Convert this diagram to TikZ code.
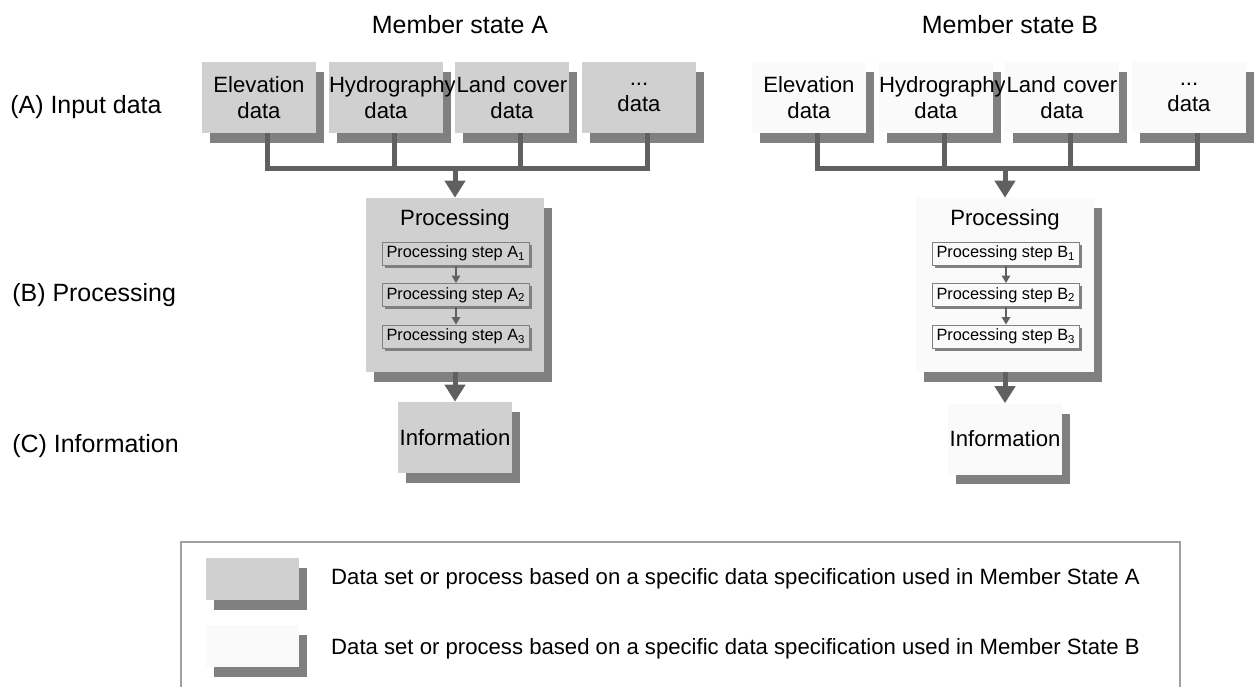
\documentclass[tikz,border=0pt]{standalone}
\usepackage{fontspec}
\setmainfont{Liberation Sans}
\usetikzlibrary{arrows.meta, shadows}
\definecolor{fillA}{HTML}{D0D0D0}
\definecolor{fillB}{HTML}{FAFAFA}
\definecolor{shade}{HTML}{808080}
\definecolor{wire}{HTML}{606060}
\definecolor{frame}{HTML}{A0A0A0}

\begin{document}
\begin{tikzpicture}[x=0.02cm, y=-0.02cm,
  every node/.style={font=\fontsize{12.6}{14.6}\selectfont},
  shadowed/.style={drop shadow={shadow xshift=0.16cm, shadow yshift=-0.2cm, fill=shade, opacity=1}},
  datbox/.style={shadowed, minimum width=2.28cm, minimum height=1.42cm, text width=2.28cm, inner sep=0pt, align=center},
  procbox/.style={shadowed, minimum width=3.56cm, minimum height=3.48cm, inner sep=0pt},
  stepbox/.style={draw=shade, line width=0.02cm, drop shadow={shadow xshift=0.05cm, shadow yshift=-0.05cm, fill=shade, opacity=1}, minimum width=2.96cm, minimum height=0.46cm, inner sep=0pt, font=\fontsize{9.3}{10}\selectfont},
  swatch/.style={shadowed, minimum width=1.86cm, minimum height=0.84cm, inner sep=0pt},
  heading/.style={font=\fontsize{14.2}{15}\selectfont},
  bus/.style={draw=wire, line width=0.1cm},
  flow/.style={bus, -{Triangle[width=0.4cm, length=0.34cm]}},
  substep/.style={draw=wire, line width=0.03cm, -{Triangle[width=0.17cm, length=0.15cm]}}]
  \useasboundingbox (0, 0) rectangle (1255, 687);

  \node [heading] (msA) at (460, 25) {Member state A};
  \node [heading] (msB) at (1010, 25) {Member state B};
  \node [heading, anchor=west, inner sep=0pt] (rowA) at (10, 107) {(A) Input data};
  \node [heading, anchor=west, inner sep=0pt] (rowB) at (12, 295) {(B) Processing};
  \node [heading, anchor=west, inner sep=0pt] (rowC) at (12, 446) {(C) Information};

  \node [datbox, fill=fillA] (elevA) at (259, 97.5) {Elevation\\data};
  \node [datbox, fill=fillA] (hydroA) at (386, 97.5) {Hydrography\\data};
  \node [datbox, fill=fillA] (landA) at (512, 97.5) {Land cover\\data};
  \node [datbox, fill=fillA] (moreA) at (639, 97.5) {...\\data};
  \coordinate (busA) at (455, 168);
  \draw [bus] ([xshift=0.16cm]elevA.south) |- (busA);
  \draw [bus] ([xshift=0.16cm]hydroA.south) |- (busA);
  \draw [bus] ([xshift=0.16cm]landA.south) |- (busA);
  \draw [bus] ([xshift=0.16cm]moreA.south) |- (busA);

  \node [procbox, fill=fillA] (procA) at (455, 285) {};
  \node (titleA) at (455, 220) {Processing};
  \node [stepbox, fill=fillA] (stepA1) at (456, 253.5) {Processing step A\textsubscript{1}};
  \node [stepbox, fill=fillA] (stepA2) at (456, 295) {Processing step A\textsubscript{2}};
  \node [stepbox, fill=fillA] (stepA3) at (456, 336.5) {Processing step A\textsubscript{3}};
  \node [datbox, fill=fillA] (infoA) at (455, 437.5) {Information};
  \draw [flow] (busA) -- (procA);
  \draw [substep] (stepA1) -- (stepA2);
  \draw [substep] (stepA2) -- (stepA3);
  \draw [flow] (procA) -- (infoA);

  \node [datbox, fill=fillB] (elevB) at (809, 97.5) {Elevation\\data};
  \node [datbox, fill=fillB] (hydroB) at (936, 97.5) {Hydrography\\data};
  \node [datbox, fill=fillB] (landB) at (1062, 97.5) {Land cover\\data};
  \node [datbox, fill=fillB] (moreB) at (1189, 97.5) {...\\data};
  \coordinate (busB) at (1005, 168);
  \draw [bus] ([xshift=0.16cm]elevB.south) |- (busB);
  \draw [bus] ([xshift=0.16cm]hydroB.south) |- (busB);
  \draw [bus] ([xshift=0.16cm]landB.south) |- (busB);
  \draw [bus] ([xshift=0.16cm]moreB.south) |- (busB);

  \node [procbox, fill=fillB] (procB) at (1005, 285) {};
  \node (titleB) at (1005, 220) {Processing};
  \node [stepbox, fill=fillB] (stepB1) at (1006, 253.5) {Processing step B\textsubscript{1}};
  \node [stepbox, fill=fillB] (stepB2) at (1006, 295) {Processing step B\textsubscript{2}};
  \node [stepbox, fill=fillB] (stepB3) at (1006, 336.5) {Processing step B\textsubscript{3}};
  \node [datbox, fill=fillB] (infoB) at (1005, 439) {Information};
  \draw [flow] (busB) -- (procB);
  \draw [substep] (stepB1) -- (stepB2);
  \draw [substep] (stepB2) -- (stepB3);
  \draw [flow] (procB) -- (infoB);

  \draw [frame, line width=0.03cm] (181, 687) -- (181, 542) -- (1180, 542) -- (1180, 687);
  \node [swatch, fill=fillA] (keyA) at (252.5, 579) {};
  \node [swatch, fill=fillB] (keyB) at (252.5, 646) {};
  \node [anchor=west] (textA) at (325, 579) {Data set or process based on a specific data specification used in Member State A};
  \node [anchor=west] (textB) at (325, 649) {Data set or process based on a specific data specification used in Member State B};
\end{tikzpicture}
\end{document}
